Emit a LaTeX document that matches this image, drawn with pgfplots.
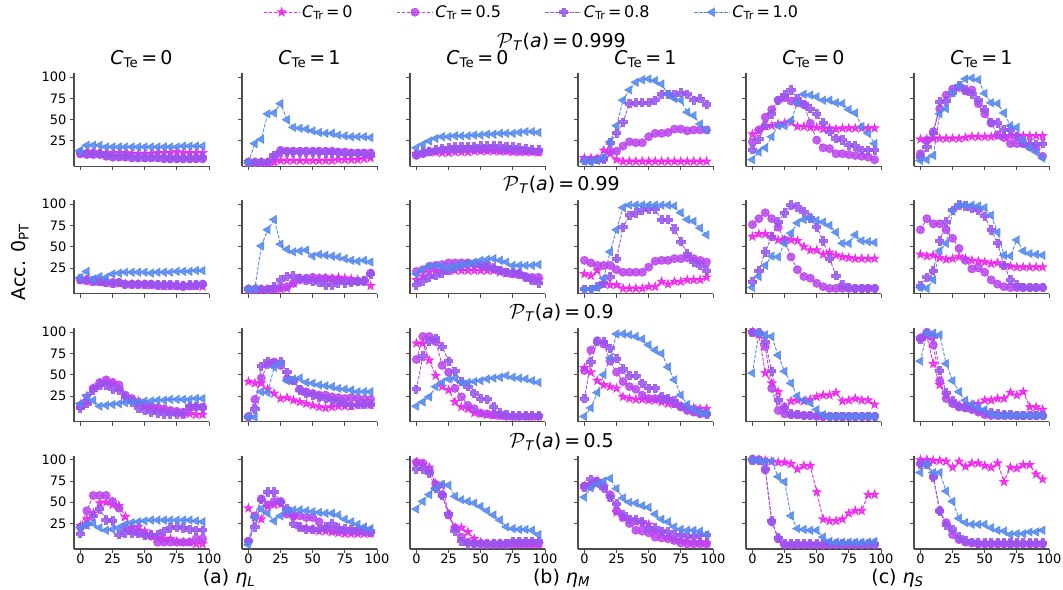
\documentclass[border=0pt]{standalone}
\usepackage{amsmath}
\usepackage{fontspec}
\setmainfont{DejaVu Sans}
\usepackage{pgfplots}
\pgfplotsset{compat=1.18}

\definecolor{cA}{HTML}{EE22EE}
\definecolor{cB}{HTML}{BB44EE}
\definecolor{cC}{HTML}{9955EE}
\definecolor{cD}{HTML}{5588EE}

\pgfdeclareplotmark{fstar}{%
  \pgfpathmoveto{\pgfpointpolar{90}{\pgfplotmarksize}}%
  \pgfpathlineto{\pgfpointpolar{126}{0.4\pgfplotmarksize}}%
  \pgfpathlineto{\pgfpointpolar{162}{\pgfplotmarksize}}%
  \pgfpathlineto{\pgfpointpolar{198}{0.4\pgfplotmarksize}}%
  \pgfpathlineto{\pgfpointpolar{234}{\pgfplotmarksize}}%
  \pgfpathlineto{\pgfpointpolar{270}{0.4\pgfplotmarksize}}%
  \pgfpathlineto{\pgfpointpolar{306}{\pgfplotmarksize}}%
  \pgfpathlineto{\pgfpointpolar{342}{0.4\pgfplotmarksize}}%
  \pgfpathlineto{\pgfpointpolar{18}{\pgfplotmarksize}}%
  \pgfpathlineto{\pgfpointpolar{54}{0.4\pgfplotmarksize}}%
  \pgfpathclose
  \pgfusepathqfillstroke}
\pgfdeclareplotmark{fplus}{%
  \pgfpathmoveto{\pgfpoint{0.36\pgfplotmarksize}{\pgfplotmarksize}}%
  \pgfpathlineto{\pgfpoint{0.36\pgfplotmarksize}{0.36\pgfplotmarksize}}%
  \pgfpathlineto{\pgfpoint{\pgfplotmarksize}{0.36\pgfplotmarksize}}%
  \pgfpathlineto{\pgfpoint{\pgfplotmarksize}{-0.36\pgfplotmarksize}}%
  \pgfpathlineto{\pgfpoint{0.36\pgfplotmarksize}{-0.36\pgfplotmarksize}}%
  \pgfpathlineto{\pgfpoint{0.36\pgfplotmarksize}{-\pgfplotmarksize}}%
  \pgfpathlineto{\pgfpoint{-0.36\pgfplotmarksize}{-\pgfplotmarksize}}%
  \pgfpathlineto{\pgfpoint{-0.36\pgfplotmarksize}{-0.36\pgfplotmarksize}}%
  \pgfpathlineto{\pgfpoint{-\pgfplotmarksize}{-0.36\pgfplotmarksize}}%
  \pgfpathlineto{\pgfpoint{-\pgfplotmarksize}{0.36\pgfplotmarksize}}%
  \pgfpathlineto{\pgfpoint{-0.36\pgfplotmarksize}{0.36\pgfplotmarksize}}%
  \pgfpathlineto{\pgfpoint{-0.36\pgfplotmarksize}{\pgfplotmarksize}}%
  \pgfpathclose
  \pgfusepathqfillstroke}

\pgfplotsset{
  panel/.style={
    scale only axis, width=135bp, height=93.5bp, anchor=north west,
    xmin=-5, xmax=100, ymin=-5, ymax=105,
    axis x line*=bottom, axis y line*=left,
    axis line style={-, line width=1.1bp, black!70},
    xtick={0,25,50,75,100}, ytick={25,50,75,100},
    xticklabels={}, yticklabels={},
    tick align=outside, major tick length=4bp,
    tick style={line width=1bp, black!70},
    tick label style={font=\fontsize{13bp}{15bp}\selectfont},
    xticklabel style={inner sep=0.5bp},
    /pgf/number format/assume math mode=true,
  },
  ylab/.style={yticklabels={25,50,75,100}},
  xlab/.style={xticklabels={0,25,50,75,100}},
  s0/.style={cA, line width=0.9bp, dash pattern=on 3.5bp off 1.5bp, mark=fstar, mark size=4.3bp, mark options={solid, fill=cA, draw=cA, opacity=0.85}},
  s5/.style={cB, line width=0.9bp, dash pattern=on 3.5bp off 1.5bp, mark=*, mark size=4bp, mark options={solid, fill=cB, draw=cB, opacity=0.85}},
  s8/.style={cC, line width=0.9bp, dash pattern=on 3.5bp off 1.5bp, mark=fplus, mark size=4.2bp, mark options={solid, fill=cC, draw=cC, opacity=0.85}},
  s1/.style={cD, line width=0.9bp, dash pattern=on 3.5bp off 1.5bp, mark=triangle*, mark size=4.6bp, mark options={solid, rotate=90, fill=cD, draw=cD, opacity=0.85}},
}

\newcommand{\ctitle}[1]{\textit{C}\textsubscript{Te}\,=\,#1}
\newcommand{\rtitle}[1]{$\mathcal{P}$\textsubscript{\textit{T}}(\textit{a})\,=\,#1}

\begin{document}
\begin{tikzpicture}[x=1bp,y=1bp]
\path[use as bounding box] (0,0) rectangle (1063,-590);

% ================= ROW 1 (0.999) =================
\begin{axis}[panel, ylab, at={(74bp,-73bp)},
  legend style={at={(3.39,1.65)}, anchor=center, draw=none, fill=none, legend columns=4,
    font=\fontsize{16bp}{18bp}\selectfont, /tikz/every even column/.append style={column sep=42bp}},
  legend image code/.code={\draw[mark repeat=2,mark phase=2] plot coordinates {(0bp,0bp)(18bp,0bp)(36bp,0bp)};}]
\addplot[s0] coordinates {(0,11)(5,12)(10,12)(15,11)(20,11)(25,11)(30,11)(35,11)(40,10)(45,10)(50,10)(55,10)(60,11)(65,11)(70,11)(75,12)(80,11)(85,11)(90,11)(95,11)};
\addplot[s5] coordinates {(0,10)(5,9)(10,9)(15,9)(20,7)(25,6)(30,6)(35,6)(40,5)(45,5)(50,5)(55,5)(60,5)(65,4)(70,4)(75,4)(80,4)(85,4)(90,4)(95,4)};
\addplot[s8] coordinates {(0,11)(5,10)(10,10)(15,10)(20,8)(25,7)(30,7)(35,7)(40,6)(45,6)(50,6)(55,6)(60,6)(65,6)(70,5)(75,5)(80,5)(85,5)(90,5)(95,6)};
\addplot[s1] coordinates {(0,14)(5,20)(10,20)(15,20)(20,18)(25,18)(30,18)(35,18)(40,18)(45,18)(50,18)(55,18)(60,18)(65,18)(70,18)(75,18)(80,19)(85,19)(90,19)(95,19)};
\legend{\textit{C}\textsubscript{Tr}\,=\,0, \textit{C}\textsubscript{Tr}\,=\,0.5, \textit{C}\textsubscript{Tr}\,=\,0.8, \textit{C}\textsubscript{Tr}\,=\,1.0}
\end{axis}

\begin{axis}[panel, at={(242bp,-73bp)}]
\addplot[s0] coordinates {(0,0)(5,0)(10,0)(15,0)(20,0)(25,2)(30,2)(35,2)(40,2)(45,2)(50,2)(55,2)(60,2)(65,2)(70,3)(75,3)(80,3)(85,3)(90,4)(95,5)};
\addplot[s5] coordinates {(0,0)(5,0)(10,0)(15,0)(20,6)(25,14)(30,13)(35,13)(40,13)(45,13)(50,13)(55,13)(60,13)(65,13)(70,12)(75,12)(80,11)(85,11)(90,11)(95,11)};
\addplot[s8] coordinates {(0,0)(5,0)(10,0)(15,0)(20,8)(25,12)(30,12)(35,12)(40,12)(45,12)(50,12)(55,12)(60,11)(65,11)(70,11)(75,10)(80,10)(85,10)(90,10)(95,9)};
\addplot[s1] coordinates {(0,0)(5,22)(10,27)(15,57)(20,58)(25,69)(30,50)(35,41)(40,40)(45,39)(50,37)(55,35)(60,34)(65,34)(70,32)(75,31)(80,30)(85,30)(90,30)(95,29)};
\end{axis}

\begin{axis}[panel, at={(410bp,-73bp)}]
\addplot[s0] coordinates {(0,10)(5,11)(10,12)(15,12)(20,11)(25,11)(30,12)(35,12)(40,12)(45,13)(50,13)(55,13)(60,13)(65,13)(70,13)(75,12)(80,12)(85,12)(90,12)(95,12)};
\addplot[s5] coordinates {(0,8)(5,10)(10,12)(15,13)(20,14)(25,14)(30,15)(35,15)(40,15)(45,15)(50,15)(55,15)(60,15)(65,14)(70,14)(75,14)(80,13)(85,13)(90,13)(95,12)};
\addplot[s8] coordinates {(0,9)(5,12)(10,13)(15,15)(20,16)(25,17)(30,18)(35,18)(40,18)(45,18)(50,19)(55,19)(60,19)(65,19)(70,18)(75,18)(80,17)(85,16)(90,15)(95,15)};
\addplot[s1] coordinates {(0,17)(5,21)(10,25)(15,28)(20,30)(25,30)(30,31)(35,31)(40,31)(45,32)(50,32)(55,33)(60,33)(65,34)(70,34)(75,34)(80,35)(85,36)(90,36)(95,35)};
\end{axis}

\begin{axis}[panel, at={(578bp,-73bp)}]
\addplot[s0] coordinates {(0,5)(5,5)(10,4)(15,14)(20,10)(25,3)(30,1)(35,1)(40,1)(45,1)(50,1)(55,1)(60,1)(65,1)(70,1)(75,1)(80,1)(85,1)(90,1)(95,1)};
\addplot[s5] coordinates {(0,3)(5,2)(10,3)(15,4)(20,13)(25,13)(30,19)(35,24)(40,23)(45,23)(50,30)(55,34)(60,34)(65,35)(70,39)(75,39)(80,37)(85,38)(90,38)(95,38)};
\addplot[s8] coordinates {(0,2)(5,2)(10,3)(15,4)(20,23)(25,34)(30,47)(35,69)(40,70)(45,70)(50,70)(55,73)(60,80)(65,80)(70,79)(75,82)(80,80)(85,73)(90,75)(95,68)};
\addplot[s1] coordinates {(0,1)(5,0)(10,2)(15,6)(20,24)(25,43)(30,73)(35,85)(40,94)(45,97)(50,98)(55,96)(60,92)(65,80)(70,75)(75,73)(80,59)(85,55)(90,45)(95,38)};
\end{axis}

\begin{axis}[panel, at={(746bp,-73bp)}]
\addplot[s0] coordinates {(0,33)(5,37)(10,42)(15,43)(20,45)(25,46)(30,47)(35,42)(40,42)(45,41)(50,41)(55,39)(60,40)(65,39)(70,40)(75,40)(80,40)(85,40)(90,40)(95,40)};
\addplot[s5] coordinates {(0,24)(5,38)(10,53)(15,62)(20,73)(25,76)(30,72)(35,70)(40,68)(45,46)(50,26)(55,17)(60,16)(65,10)(70,10)(75,9)(80,8)(85,7)(90,6)(95,3)};
\addplot[s8] coordinates {(0,15)(5,27)(10,43)(15,57)(20,73)(25,79)(30,85)(35,75)(40,68)(45,63)(50,57)(55,46)(60,36)(65,28)(70,26)(75,20)(80,19)(85,14)(90,14)(95,14)};
\addplot[s1] coordinates {(0,3)(5,12)(10,17)(15,30)(20,43)(25,43)(30,49)(35,70)(40,80)(45,79)(50,77)(55,73)(60,73)(65,70)(70,69)(75,62)(80,58)(85,42)(90,34)(95,22)};
\end{axis}

\begin{axis}[panel, at={(914bp,-73bp)}]
\addplot[s0] coordinates {(0,27)(5,27)(10,28)(15,28)(20,28)(25,28)(30,28)(35,29)(40,30)(45,30)(50,30)(55,30)(60,31)(65,31)(70,31)(75,31)(80,31)(85,31)(90,31)(95,31)};
\addplot[s5] coordinates {(0,10)(5,26)(10,36)(15,63)(20,79)(25,86)(30,88)(35,84)(40,85)(45,69)(50,57)(55,46)(60,32)(65,29)(70,22)(75,22)(80,22)(85,18)(90,16)(95,7)};
\addplot[s8] coordinates {(0,6)(5,18)(10,34)(15,71)(20,72)(25,82)(30,90)(35,85)(40,80)(45,73)(50,62)(55,47)(60,46)(65,38)(70,38)(75,30)(80,22)(85,22)(90,21)(95,22)};
\addplot[s1] coordinates {(0,2)(5,3)(10,8)(15,57)(20,63)(25,82)(30,90)(35,98)(40,99)(45,97)(50,81)(55,70)(60,69)(65,58)(70,43)(75,41)(80,26)(85,17)(90,12)(95,5)};
\end{axis}

% ================= ROW 2 (0.99) =================
\begin{axis}[panel, ylab, at={(74bp,-200bp)}]
\addplot[s0] coordinates {(0,11)(5,10)(10,9)(15,9)(20,8)(25,7)(30,7)(35,6)(40,6)(45,6)(50,5)(55,5)(60,5)(65,4)(70,4)(75,4)(80,4)(85,4)(90,4)(95,3)};
\addplot[s5] coordinates {(0,11)(5,11)(10,10)(15,9)(20,8)(25,8)(30,8)(35,6)(40,6)(45,6)(50,6)(55,6)(60,5)(65,5)(70,5)(75,4)(80,4)(85,4)(90,5)(95,6)};
\addplot[s8] coordinates {(0,12)(5,11)(10,10)(15,9)(20,8)(25,7)(30,8)(35,6)(40,6)(45,6)(50,6)(55,6)(60,5)(65,5)(70,5)(75,5)(80,4)(85,5)(90,5)(95,6)};
\addplot[s1] coordinates {(0,14)(5,21)(10,12)(15,15)(20,14)(25,18)(30,19)(35,20)(40,20)(45,20)(50,20)(55,19)(60,20)(65,20)(70,20)(75,21)(80,21)(85,21)(90,22)(95,22)};
\end{axis}

\begin{axis}[panel, at={(242bp,-200bp)}]
\addplot[s0] coordinates {(0,0)(5,0)(10,0)(15,0)(20,0)(25,0)(30,1)(35,7)(40,13)(45,11)(50,12)(55,13)(60,13)(65,13)(70,14)(75,13)(80,12)(85,11)(90,10)(95,4)};
\addplot[s5] coordinates {(0,0)(5,0)(10,0)(15,0)(20,0)(25,2)(30,3)(35,7)(40,11)(45,13)(50,14)(55,13)(60,13)(65,12)(70,11)(75,10)(80,9)(85,9)(90,10)(95,19)};
\addplot[s8] coordinates {(0,0)(5,0)(10,0)(15,0)(20,3)(25,11)(30,15)(35,16)(40,13)(45,11)(50,9)(55,8)(60,5)(65,5)(70,7)(75,7)(80,8)(85,9)(90,10)(95,18)};
\addplot[s1] coordinates {(0,0)(5,1)(10,51)(15,70)(20,82)(25,53)(30,47)(35,44)(40,45)(45,46)(50,39)(55,41)(60,40)(65,39)(70,38)(75,36)(80,34)(85,33)(90,34)(95,32)};
\end{axis}

\begin{axis}[panel, at={(410bp,-200bp)}]
\addplot[s0] coordinates {(0,11)(5,15)(10,20)(15,22)(20,22)(25,22)(30,22)(35,22)(40,22)(45,22)(50,22)(55,22)(60,22)(65,20)(70,19)(75,18)(80,18)(85,14)(90,11)(95,11)};
\addplot[s5] coordinates {(0,21)(5,23)(10,27)(15,28)(20,29)(25,31)(30,31)(35,31)(40,31)(45,30)(50,29)(55,29)(60,24)(65,22)(70,20)(75,18)(80,18)(85,15)(90,14)(95,14)};
\addplot[s8] coordinates {(0,5)(5,10)(10,14)(15,16)(20,19)(25,22)(30,25)(35,28)(40,29)(45,29)(50,28)(55,26)(60,25)(65,22)(70,20)(75,20)(80,18)(85,14)(90,11)(95,7)};
\addplot[s1] coordinates {(0,18)(5,23)(10,27)(15,28)(20,27)(25,25)(30,27)(35,29)(40,30)(45,32)(50,34)(55,35)(60,36)(65,34)(70,32)(75,28)(80,28)(85,28)(90,28)(95,29)};
\end{axis}

\begin{axis}[panel, at={(578bp,-200bp)}]
\addplot[s0] coordinates {(0,18)(5,16)(10,22)(15,7)(20,5)(25,5)(30,1)(35,1)(40,1)(45,1)(50,3)(55,3)(60,9)(65,6)(70,9)(75,9)(80,11)(85,11)(90,11)(95,14)};
\addplot[s5] coordinates {(0,34)(5,31)(10,28)(15,28)(20,28)(25,23)(30,20)(35,20)(40,20)(45,20)(50,26)(55,33)(60,34)(65,34)(70,36)(75,36)(80,37)(85,36)(90,34)(95,32)};
\addplot[s8] coordinates {(0,0)(5,0)(10,3)(15,7)(20,15)(25,36)(30,73)(35,87)(40,90)(45,93)(50,94)(55,94)(60,82)(65,82)(70,71)(75,56)(80,42)(85,32)(90,28)(95,22)};
\addplot[s1] coordinates {(0,0)(5,0)(10,2)(15,13)(20,44)(25,70)(30,96)(35,99)(40,99)(45,99)(50,99)(55,99)(60,99)(65,99)(70,98)(75,90)(80,82)(85,80)(90,72)(95,64)};
\end{axis}

\begin{axis}[panel, at={(746bp,-200bp)}]
\addplot[s0] coordinates {(0,62)(5,65)(10,65)(15,62)(20,58)(25,58)(30,58)(35,57)(40,50)(45,46)(50,46)(55,41)(60,43)(65,40)(70,38)(75,37)(80,36)(85,36)(90,36)(95,36)};
\addplot[s5] coordinates {(0,76)(5,83)(10,90)(15,83)(20,73)(25,58)(30,38)(35,23)(40,15)(45,13)(50,7)(55,3)(60,1)(65,1)(70,1)(75,1)(80,1)(85,1)(90,1)(95,1)};
\addplot[s8] coordinates {(0,9)(5,22)(10,44)(15,62)(20,79)(25,90)(30,99)(35,97)(40,91)(45,84)(50,73)(55,57)(60,36)(65,16)(70,5)(75,2)(80,1)(85,1)(90,1)(95,1)};
\addplot[s1] coordinates {(0,2)(5,15)(10,28)(15,39)(20,38)(25,54)(30,66)(35,78)(40,82)(45,83)(50,81)(55,79)(60,75)(65,67)(70,54)(75,54)(80,64)(85,57)(90,56)(95,55)};
\end{axis}

\begin{axis}[panel, at={(914bp,-200bp)}]
\addplot[s0] coordinates {(0,41)(5,39)(10,40)(15,37)(20,35)(25,36)(30,38)(35,36)(40,34)(45,33)(50,32)(55,30)(60,31)(65,28)(70,27)(75,26)(80,26)(85,26)(90,26)(95,26)};
\addplot[s5] coordinates {(0,70)(5,83)(10,77)(15,77)(20,70)(25,60)(30,48)(35,34)(40,24)(45,25)(50,20)(55,11)(60,6)(65,3)(70,2)(75,2)(80,2)(85,2)(90,2)(95,2)};
\addplot[s8] coordinates {(0,4)(5,14)(10,22)(15,57)(20,79)(25,93)(30,99)(35,98)(40,95)(45,93)(50,86)(55,70)(60,54)(65,28)(70,11)(75,5)(80,2)(85,2)(90,2)(95,2)};
\addplot[s1] coordinates {(0,2)(5,1)(10,11)(15,45)(20,54)(25,92)(30,99)(35,99)(40,99)(45,98)(50,96)(55,87)(60,67)(65,40)(70,39)(75,58)(80,45)(85,42)(90,41)(95,40)};
\end{axis}

% ================= ROW 3 (0.9) =================
\begin{axis}[panel, ylab, at={(74bp,-328bp)}]
\addplot[s0] coordinates {(0,15)(5,25)(10,34)(15,38)(20,41)(25,40)(30,34)(35,22)(40,20)(45,19)(50,13)(55,11)(60,9)(65,8)(70,6)(75,5)(80,4)(85,4)(90,3)(95,3)};
\addplot[s5] coordinates {(0,13)(5,19)(10,34)(15,41)(20,44)(25,41)(30,38)(35,26)(40,22)(45,17)(50,15)(55,13)(60,11)(65,10)(70,8)(75,7)(80,6)(85,11)(90,12)(95,12)};
\addplot[s8] coordinates {(0,11)(5,16)(10,32)(15,38)(20,38)(25,33)(30,32)(35,24)(40,18)(45,11)(50,8)(55,6)(60,5)(65,4)(70,4)(75,4)(80,4)(85,13)(90,13)(95,11)};
\addplot[s1] coordinates {(0,16)(5,25)(10,20)(15,13)(20,14)(25,15)(30,16)(35,17)(40,18)(45,18)(50,19)(55,19)(60,20)(65,20)(70,21)(75,21)(80,21)(85,21)(90,22)(95,22)};
\end{axis}

\begin{axis}[panel, at={(242bp,-328bp)}]
\addplot[s0] coordinates {(0,42)(5,40)(10,40)(15,33)(20,28)(25,22)(30,23)(35,20)(40,18)(45,16)(50,14)(55,12)(60,11)(65,12)(70,13)(75,13)(80,13)(85,15)(90,15)(95,15)};
\addplot[s5] coordinates {(0,1)(5,21)(10,46)(15,62)(20,65)(25,61)(30,45)(35,43)(40,33)(45,30)(50,28)(55,26)(60,26)(65,24)(70,23)(75,22)(80,23)(85,22)(90,21)(95,21)};
\addplot[s8] coordinates {(0,0)(5,10)(10,60)(15,66)(20,63)(25,65)(30,53)(35,43)(40,32)(45,28)(50,26)(55,24)(60,22)(65,20)(70,18)(75,16)(80,14)(85,15)(90,15)(95,15)};
\addplot[s1] coordinates {(0,1)(5,0)(10,30)(15,29)(20,59)(25,63)(30,43)(35,45)(40,46)(45,41)(50,40)(55,38)(60,37)(65,36)(70,34)(75,33)(80,32)(85,30)(90,30)(95,30)};
\end{axis}

\begin{axis}[panel, at={(410bp,-328bp)}]
\addplot[s0] coordinates {(0,87)(5,87)(10,67)(15,49)(20,36)(25,32)(30,18)(35,12)(40,10)(45,5)(50,4)(55,3)(60,2)(65,2)(70,2)(75,1)(80,1)(85,1)(90,1)(95,1)};
\addplot[s5] coordinates {(0,68)(5,95)(10,95)(15,89)(20,61)(25,53)(30,34)(35,24)(40,14)(45,10)(50,5)(55,4)(60,3)(65,2)(70,1)(75,1)(80,1)(85,1)(90,1)(95,1)};
\addplot[s8] coordinates {(0,33)(5,72)(10,89)(15,93)(20,83)(25,66)(30,54)(35,42)(40,36)(45,28)(50,22)(55,21)(60,12)(65,5)(70,3)(75,2)(80,2)(85,2)(90,2)(95,2)};
\addplot[s1] coordinates {(0,13)(5,18)(10,24)(15,36)(20,41)(25,45)(30,46)(35,41)(40,41)(45,42)(50,43)(55,45)(60,46)(65,47)(70,49)(75,47)(80,46)(85,45)(90,43)(95,41)};
\end{axis}

\begin{axis}[panel, at={(578bp,-328bp)}]
\addplot[s0] coordinates {(0,58)(5,53)(10,43)(15,38)(20,36)(25,34)(30,24)(35,22)(40,21)(45,21)(50,20)(55,20)(60,18)(65,16)(70,15)(75,13)(80,12)(85,11)(90,10)(95,10)};
\addplot[s5] coordinates {(0,55)(5,79)(10,90)(15,86)(20,66)(25,53)(30,42)(35,36)(40,33)(45,26)(50,22)(55,22)(60,21)(65,20)(70,16)(75,12)(80,8)(85,6)(90,4)(95,4)};
\addplot[s8] coordinates {(0,22)(5,65)(10,89)(15,89)(20,81)(25,69)(30,57)(35,49)(40,49)(45,40)(50,34)(55,34)(60,24)(65,22)(70,19)(75,13)(80,11)(85,8)(90,6)(95,4)};
\addplot[s1] coordinates {(0,1)(5,11)(10,29)(15,50)(20,70)(25,98)(30,98)(35,97)(40,95)(45,92)(50,85)(55,79)(60,75)(65,59)(70,44)(75,26)(80,15)(85,10)(90,6)(95,4)};
\end{axis}

\begin{axis}[panel, at={(746bp,-328bp)}]
\addplot[s0] coordinates {(0,100)(5,97)(10,52)(15,40)(20,30)(25,12)(30,19)(35,20)(40,19)(45,21)(50,24)(55,26)(60,26)(65,29)(70,19)(75,20)(80,22)(85,20)(90,20)(95,15)};
\addplot[s5] coordinates {(0,100)(5,99)(10,83)(15,34)(20,8)(25,4)(30,3)(35,3)(40,2)(45,2)(50,1)(55,1)(60,1)(65,1)(70,1)(75,1)(80,1)(85,1)(90,1)(95,1)};
\addplot[s8] coordinates {(0,100)(5,99)(10,89)(15,54)(20,20)(25,11)(30,4)(35,3)(40,2)(45,2)(50,2)(55,1)(60,1)(65,1)(70,1)(75,1)(80,1)(85,1)(90,1)(95,1)};
\addplot[s1] coordinates {(0,52)(5,99)(10,97)(15,95)(20,73)(25,54)(30,40)(35,25)(40,20)(45,17)(50,9)(55,3)(60,1)(65,1)(70,1)(75,1)(80,1)(85,1)(90,1)(95,1)};
\end{axis}

\begin{axis}[panel, at={(914bp,-328bp)}]
\addplot[s0] coordinates {(0,93)(5,95)(10,63)(15,38)(20,26)(25,17)(30,14)(35,13)(40,15)(45,16)(50,20)(55,20)(60,22)(65,22)(70,29)(75,26)(80,30)(85,12)(90,12)(95,9)};
\addplot[s5] coordinates {(0,93)(5,100)(10,85)(15,43)(20,22)(25,16)(30,12)(35,11)(40,9)(45,6)(50,3)(55,2)(60,2)(65,2)(70,2)(75,2)(80,2)(85,2)(90,2)(95,2)};
\addplot[s8] coordinates {(0,92)(5,98)(10,95)(15,55)(20,29)(25,19)(30,13)(35,12)(40,11)(45,8)(50,6)(55,5)(60,4)(65,3)(70,3)(75,2)(80,2)(85,2)(90,2)(95,2)};
\addplot[s1] coordinates {(0,66)(5,99)(10,99)(15,97)(20,63)(25,43)(30,30)(35,20)(40,15)(45,12)(50,9)(55,4)(60,2)(65,2)(70,2)(75,2)(80,2)(85,2)(90,2)(95,2)};
\end{axis}

% ================= ROW 4 (0.5) =================
\begin{axis}[panel, ylab, xlab, at={(74bp,-455.5bp)}]
\addplot[s0] coordinates {(0,22)(5,30)(10,37)(15,49)(20,50)(25,47)(30,46)(35,33)(40,20)(45,21)(50,16)(55,12)(60,8)(65,7)(70,7)(75,4)(80,3)(85,3)(90,1)(95,1)};
\addplot[s5] coordinates {(0,21)(5,40)(10,58)(15,58)(20,58)(25,51)(30,43)(35,20)(40,17)(45,15)(50,12)(55,10)(60,3)(65,3)(70,3)(75,3)(80,3)(85,3)(90,7)(95,7)};
\addplot[s8] coordinates {(0,13)(5,24)(10,34)(15,42)(20,29)(25,28)(30,12)(35,14)(40,14)(45,13)(50,11)(55,12)(60,12)(65,16)(70,20)(75,21)(80,20)(85,18)(90,17)(95,17)};
\addplot[s1] coordinates {(0,20)(5,23)(10,25)(15,20)(20,17)(25,18)(30,20)(35,24)(40,26)(45,27)(50,28)(55,29)(60,29)(65,29)(70,29)(75,29)(80,29)(85,29)(90,28)(95,27)};
\end{axis}

\begin{axis}[panel, xlab, at={(242bp,-455.5bp)}]
\addplot[s0] coordinates {(0,43)(5,32)(10,30)(15,45)(20,47)(25,48)(30,38)(35,34)(40,21)(45,20)(50,18)(55,16)(60,16)(65,15)(70,14)(75,13)(80,13)(85,13)(90,13)(95,13)};
\addplot[s5] coordinates {(0,4)(5,34)(10,54)(15,47)(20,51)(25,51)(30,36)(35,35)(40,34)(45,32)(50,32)(55,27)(60,19)(65,17)(70,16)(75,16)(80,16)(85,15)(90,15)(95,14)};
\addplot[s8] coordinates {(0,4)(5,21)(10,53)(15,62)(20,62)(25,50)(30,42)(35,25)(40,21)(45,18)(50,18)(55,18)(60,21)(65,25)(70,20)(75,19)(80,18)(85,18)(90,17)(95,16)};
\addplot[s1] coordinates {(0,0)(5,32)(10,42)(15,37)(20,28)(25,34)(30,40)(35,41)(40,41)(45,40)(50,39)(55,38)(60,37)(65,37)(70,35)(75,30)(80,27)(85,24)(90,21)(95,19)};
\end{axis}

\begin{axis}[panel, xlab, at={(410bp,-455.5bp)}]
\addplot[s0] coordinates {(0,97)(5,94)(10,91)(15,72)(20,70)(25,36)(30,20)(35,20)(40,15)(45,7)(50,3)(55,1)(60,1)(65,1)(70,1)(75,1)(80,1)(85,1)(90,1)(95,1)};
\addplot[s5] coordinates {(0,97)(5,96)(10,88)(15,71)(20,59)(25,35)(30,20)(35,9)(40,3)(45,1)(50,1)(55,1)(60,1)(65,1)(70,1)(75,1)(80,1)(85,1)(90,1)(95,1)};
\addplot[s8] coordinates {(0,89)(5,89)(10,84)(15,66)(20,58)(25,36)(30,16)(35,4)(40,1)(45,1)(50,1)(55,1)(60,1)(65,1)(70,1)(75,4)(80,4)(85,4)(90,4)(95,4)};
\addplot[s1] coordinates {(0,42)(5,51)(10,59)(15,66)(20,71)(25,70)(30,57)(35,53)(40,51)(45,49)(50,45)(55,40)(60,35)(65,29)(70,21)(75,19)(80,18)(85,18)(90,17)(95,12)};
\end{axis}

\begin{axis}[panel, xlab, at={(578bp,-455.5bp)}]
\addplot[s0] coordinates {(0,69)(5,71)(10,75)(15,68)(20,56)(25,38)(30,32)(35,29)(40,27)(45,25)(50,24)(55,15)(60,13)(65,9)(70,6)(75,5)(80,4)(85,3)(90,3)(95,2)};
\addplot[s5] coordinates {(0,69)(5,69)(10,74)(15,69)(20,59)(25,40)(30,32)(35,25)(40,17)(45,16)(50,14)(55,9)(60,8)(65,7)(70,5)(75,2)(80,1)(85,1)(90,1)(95,1)};
\addplot[s8] coordinates {(0,68)(5,77)(10,74)(15,67)(20,56)(25,48)(30,36)(35,30)(40,29)(45,27)(50,20)(55,20)(60,16)(65,15)(70,12)(75,12)(80,10)(85,9)(90,11)(95,11)};
\addplot[s1] coordinates {(0,56)(5,67)(10,71)(15,75)(20,78)(25,66)(30,55)(35,50)(40,49)(45,46)(50,44)(55,36)(60,30)(65,27)(70,21)(75,18)(80,17)(85,17)(90,16)(95,12)};
\end{axis}

\begin{axis}[panel, xlab, at={(746bp,-455.5bp)}]
\addplot[s0] coordinates {(0,100)(5,100)(10,99)(15,98)(20,97)(25,97)(30,95)(35,89)(40,93)(45,93)(50,62)(55,30)(60,28)(65,28)(70,30)(75,37)(80,40)(85,40)(90,59)(95,59)};
\addplot[s5] coordinates {(0,100)(5,100)(10,88)(15,27)(20,7)(25,0)(30,0)(35,0)(40,0)(45,0)(50,0)(55,0)(60,0)(65,0)(70,0)(75,0)(80,0)(85,0)(90,0)(95,0)};
\addplot[s8] coordinates {(0,100)(5,99)(10,89)(15,28)(20,8)(25,1)(30,1)(35,1)(40,1)(45,1)(50,1)(55,1)(60,1)(65,1)(70,1)(75,1)(80,1)(85,1)(90,1)(95,1)};
\addplot[s1] coordinates {(0,100)(5,99)(10,98)(15,98)(20,80)(25,74)(30,34)(35,19)(40,18)(45,17)(50,17)(55,9)(60,4)(65,3)(70,3)(75,3)(80,3)(85,3)(90,3)(95,4)};
\end{axis}

\begin{axis}[panel, xlab, at={(914bp,-455.5bp)}]
\addplot[s0] coordinates {(0,100)(5,100)(10,99)(15,99)(20,98)(25,91)(30,98)(35,92)(40,96)(45,96)(50,93)(55,91)(60,96)(65,74)(70,91)(75,90)(80,94)(85,94)(90,83)(95,77)};
\addplot[s5] coordinates {(0,96)(5,95)(10,80)(15,40)(20,26)(25,12)(30,6)(35,3)(40,2)(45,1)(50,1)(55,1)(60,1)(65,1)(70,1)(75,1)(80,1)(85,1)(90,1)(95,1)};
\addplot[s8] coordinates {(0,95)(5,95)(10,80)(15,40)(20,23)(25,18)(30,9)(35,5)(40,3)(45,2)(50,2)(55,2)(60,2)(65,2)(70,2)(75,2)(80,2)(85,2)(90,2)(95,2)};
\addplot[s1] coordinates {(0,85)(5,94)(10,85)(15,85)(20,63)(25,51)(30,31)(35,26)(40,24)(45,24)(50,24)(55,20)(60,17)(65,16)(70,12)(75,13)(80,13)(85,15)(90,15)(95,17)};
\end{axis}

% ================= titles and labels =================
\begin{scope}[every node/.style={font=\fontsize{19bp}{22bp}\selectfont, inner sep=0pt}]
\node at (561.5,-42) {\rtitle{0.999}};
\node at (561.5,-185) {\rtitle{0.99}};
\node at (561.5,-313) {\rtitle{0.9}};
\node at (561.5,-442) {\rtitle{0.5}};
\node at (141.5,-59) {\ctitle{0}};
\node at (309.5,-59) {\ctitle{1}};
\node at (477.5,-59) {\ctitle{0}};
\node at (645.5,-59) {\ctitle{1}};
\node at (813.5,-59) {\ctitle{0}};
\node at (981.5,-59) {\ctitle{1}};
\node at (229,-578) {(a) \textit{η}\textsubscript{\textit{L}}};
\node at (561.5,-578) {(b) \textit{η}\textsubscript{\textit{M}}};
\node at (897.5,-578) {(c) \textit{η}\textsubscript{\textit{S}}};
\node[rotate=90] at (20,-262) {Acc. 0\textsubscript{PT}};
\end{scope}
\end{tikzpicture}
\end{document}
